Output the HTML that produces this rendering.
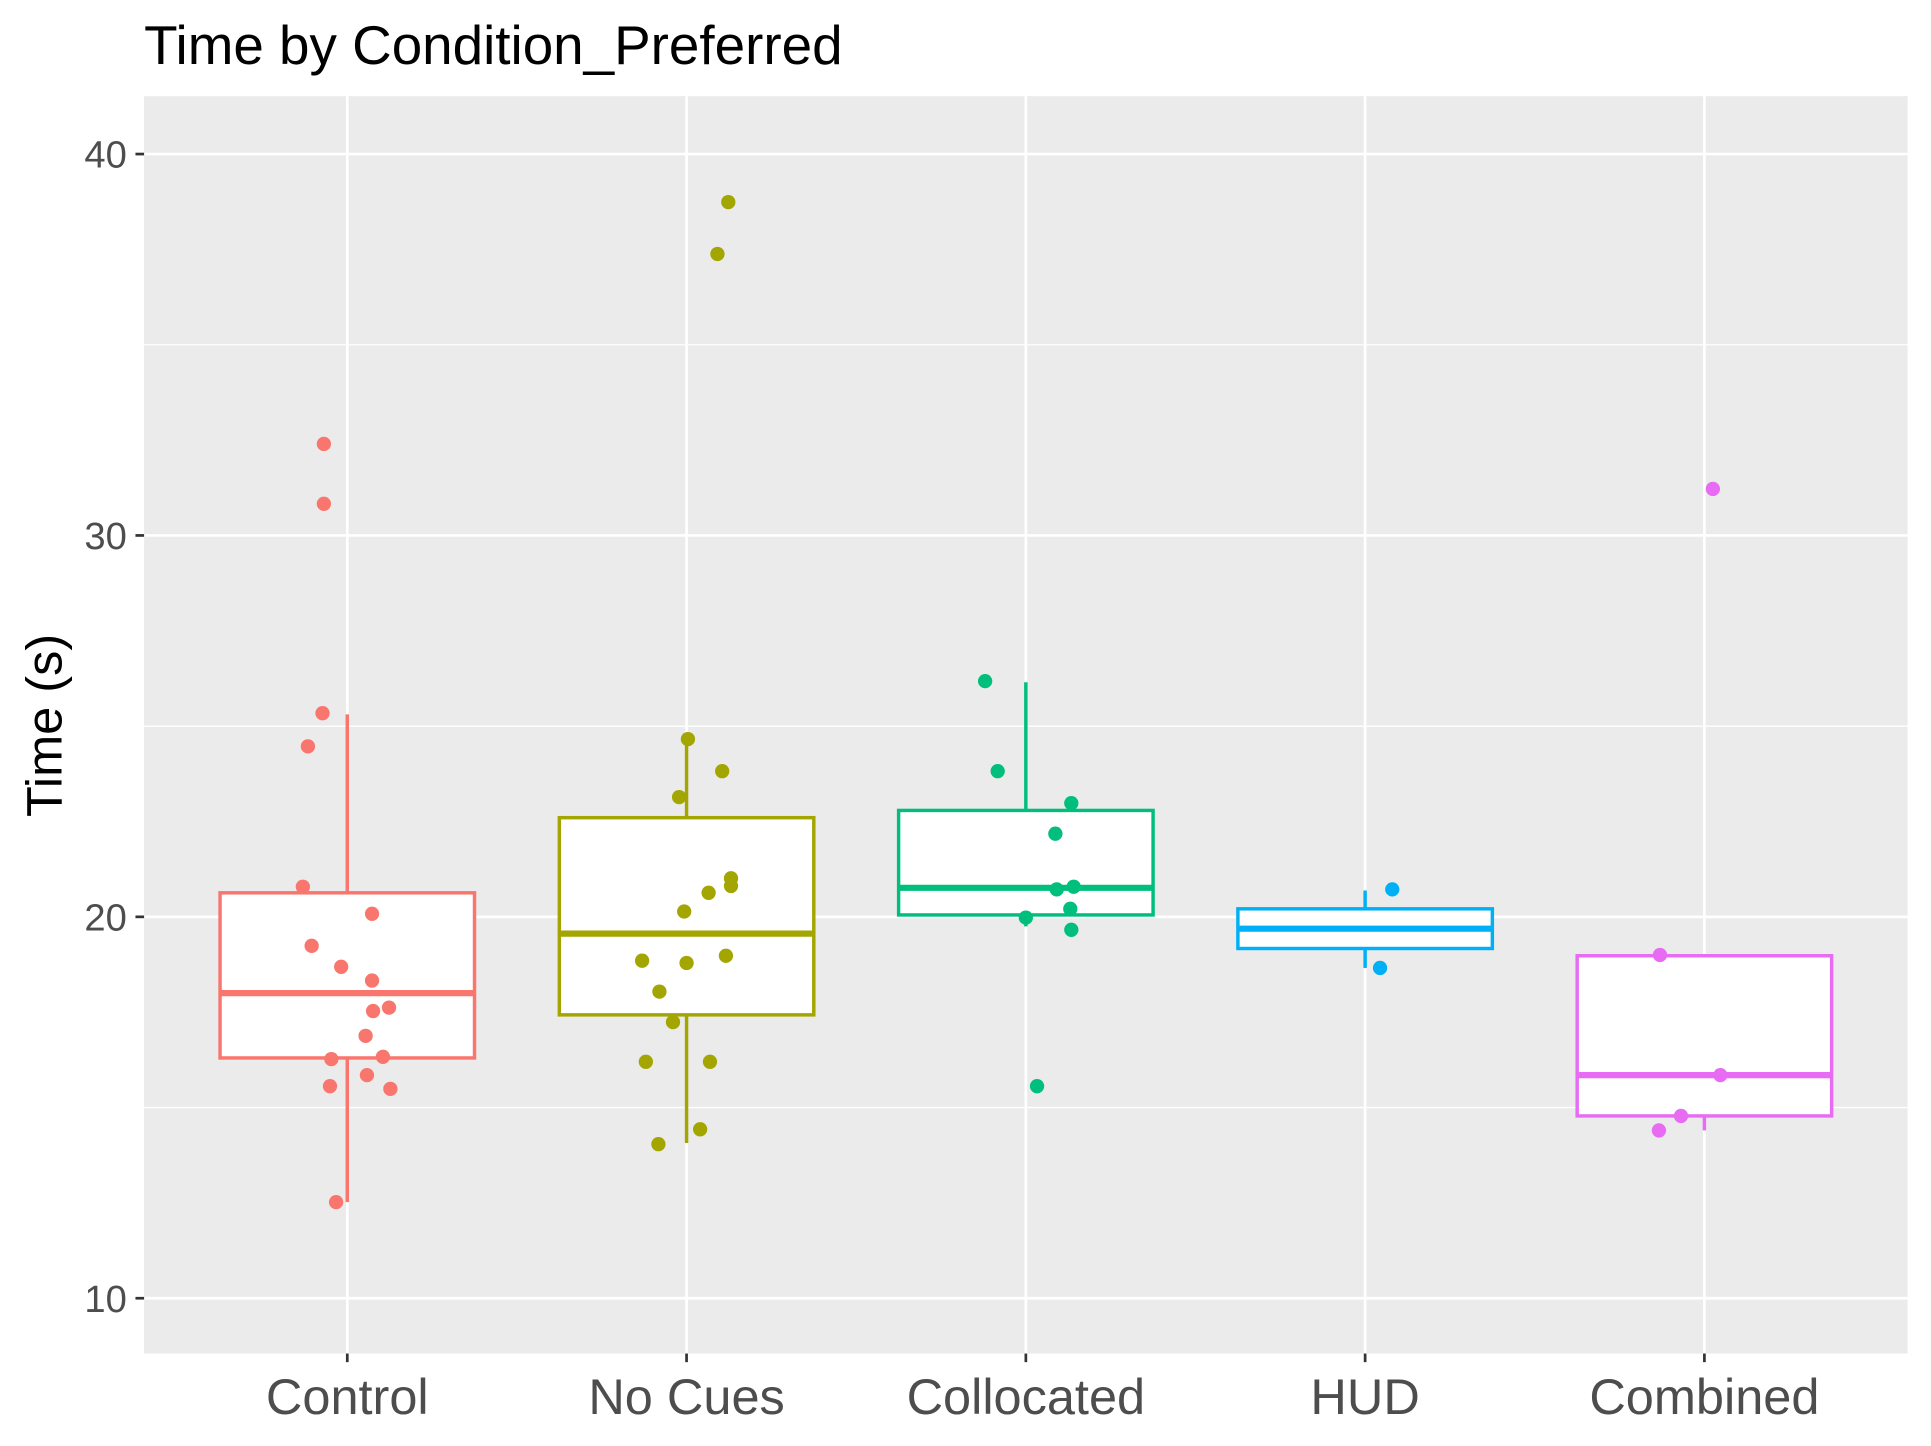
<!DOCTYPE html>
<html><head><meta charset="utf-8"><style>
html,body{margin:0;padding:0;background:#fff;}
svg{display:block;font-family:"Liberation Sans",Arial,sans-serif;}
</style></head><body>
<svg id="chart" width="1931" height="1446" viewBox="0 0 1568 1174" xmlns="http://www.w3.org/2000/svg">
<rect x="0" y="0" width="1568" height="1174" fill="#fff"/>
<text x="117" y="52" font-size="44.5" fill="#000">Time by Condition_Preferred</text>
<rect x="117" y="78" width="1432" height="1021" fill="#EBEBEB"/>
<g id="grid"></g>
<g id="marks"></g>
<g id="axes"></g>
<text transform="translate(50,589) rotate(-90)" text-anchor="middle" font-size="41" fill="#000">Time (s)</text>
</svg>
<script>
const categories = ["Control","No Cues","Collocated","HUD","Combined"];
const colors = ["#F8766D","#A3A500","#00BF7D","#00B0F6","#E76BF3"];
const q1 = [16.30,17.43,20.05,19.17,14.78];
const medians = [18.00,19.56,20.76,19.69,15.85];
const q3 = [20.63,22.60,22.79,20.21,18.98];
const whiskerLow = [12.52,14.07,19.75,18.66,14.40];
const whiskerHigh = [25.31,24.66,26.15,20.69,18.98];
const pointValues = [
 [32.40,30.83,25.34,24.47,20.79,20.08,19.24,18.69,18.33,17.62,17.53,16.88,16.27,16.33,15.85,15.56,15.49,12.52],
 [38.74,37.38,24.66,23.82,23.14,21.01,20.81,20.63,20.14,18.85,18.79,18.98,18.04,17.24,16.20,16.20,14.43,14.04],
 [26.18,23.82,22.98,22.18,20.72,20.79,20.21,19.98,19.66,15.56],
 [20.72,18.66],
 [31.22,19.00,15.85,14.78,14.40]
];
const pointJitter = [
 [-0.069,-0.069,-0.073,-0.116,-0.131,0.073,-0.105,-0.018,0.073,0.123,0.076,0.054,-0.047,0.105,0.058,-0.051,0.127,-0.033],
 [0.123,0.091,0.004,0.105,-0.022,0.131,0.131,0.065,-0.007,-0.131,0.000,0.116,-0.080,-0.040,-0.120,0.069,0.040,-0.083],
 [-0.120,-0.083,0.134,0.087,0.091,0.141,0.131,0.000,0.134,0.033],
 [0.080,0.044],
 [0.025,-0.131,0.047,-0.069,-0.134]
];
const yTicks = [10,20,30,40];
const yMinor = [15,25,35];

const NS="http://www.w3.org/2000/svg";
const xL=117,xR=1549,yT=78,yB=1099;
const bandStep=275.5, x0=282;
function xScale(i){return x0+i*bandStep;}
function yScale(v){return 125+(40-v)*30.97;}
function mk(tag,attrs,parent){const e=document.createElementNS(NS,tag);for(const k in attrs)e.setAttribute(k,attrs[k]);parent.appendChild(e);return e;}
const grid=document.getElementById('grid'),marks=document.getElementById('marks'),axes=document.getElementById('axes');

yMinor.forEach(v=>{const l=mk('line',{x1:xL,x2:xR,y1:yScale(v),y2:yScale(v),stroke:'#fff','stroke-width':1.1},grid);

});
yTicks.forEach(v=>{const y=yScale(v);
const l=mk('line',{x1:xL,x2:xR,y1:y,y2:y,stroke:'#fff','stroke-width':2.2},grid);


const t=mk('line',{x1:xL-7,x2:xL,y1:y,y2:y,stroke:'#333','stroke-width':2.2},axes);


const tx=mk('text',{x:xL-14,y:y+11,'text-anchor':'end','font-size':31,fill:'#4d4d4d'},axes);tx.textContent=v;


});
categories.forEach((c,i)=>{const x=xScale(i);
const l=mk('line',{x1:x,x2:x,y1:yT,y2:yB,stroke:'#fff','stroke-width':2.2},grid);


const t=mk('line',{x1:x,x2:x,y1:yB,y2:yB+7,stroke:'#333','stroke-width':2.2},axes);


const tx=mk('text',{x:x,y:1148,'text-anchor':'middle','font-size':41,fill:'#4d4d4d'},axes);tx.textContent=c;


});
const bw=bandStep*0.75;
categories.forEach((c,i)=>{const x=xScale(i),col=colors[i];
const g=mk('g',{},marks);


mk('line',{x1:x,x2:x,y1:yScale(q3[i]),y2:yScale(whiskerHigh[i]),stroke:col,'stroke-width':2.8},g);
mk('line',{x1:x,x2:x,y1:yScale(q1[i]),y2:yScale(whiskerLow[i]),stroke:col,'stroke-width':2.8},g);
mk('rect',{x:x-bw/2,y:yScale(q3[i]),width:bw,height:yScale(q1[i])-yScale(q3[i]),fill:'#fff',stroke:col,'stroke-width':2.8},g);
mk('line',{x1:x-bw/2,x2:x+bw/2,y1:yScale(medians[i]),y2:yScale(medians[i]),stroke:col,'stroke-width':5},g);
});
categories.forEach((c,i)=>{pointValues[i].forEach((v,j)=>{
const p=mk('circle',{cx:xScale(i+pointJitter[i][j]),cy:yScale(v),r:5.8,fill:colors[i]},marks);


});});
</script>
</body></html>
